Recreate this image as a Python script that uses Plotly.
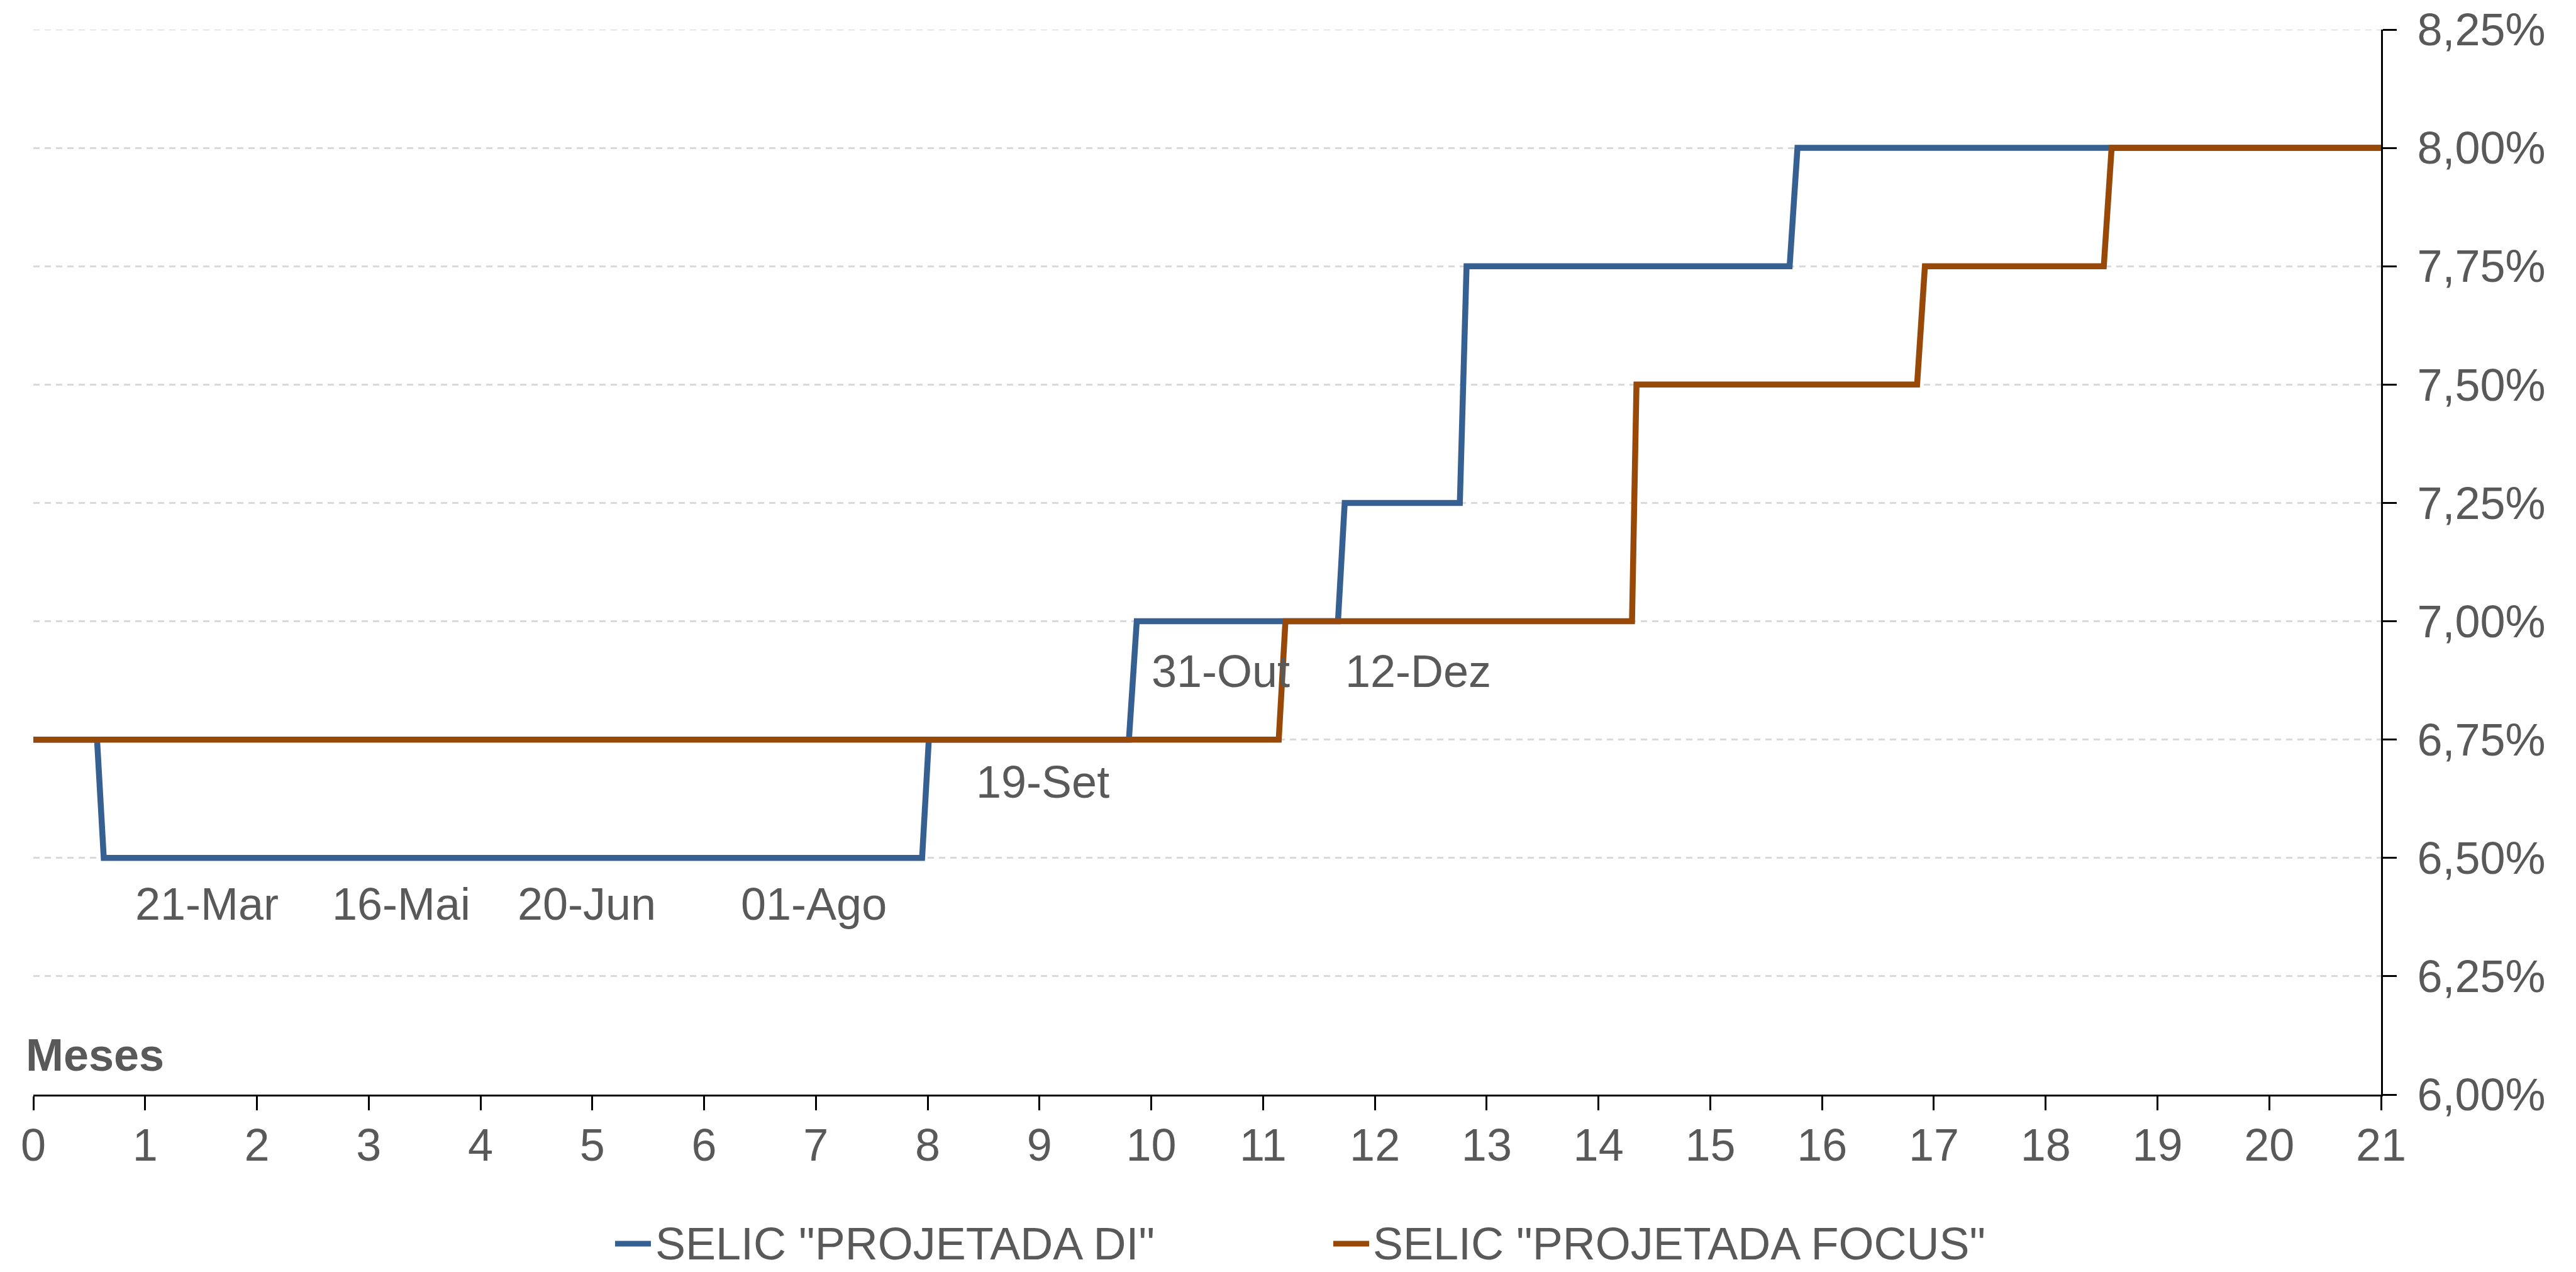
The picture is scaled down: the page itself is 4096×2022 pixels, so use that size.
import plotly.graph_objects as go

# ---- data ----
di_meses = [0, 0.57, 0.63, 7.95, 8.01, 9.80, 9.87, 11.67, 11.73, 12.76, 12.82, 15.71, 15.78, 21]
di_selic = [6.75, 6.75, 6.50, 6.50, 6.75, 6.75, 7.00, 7.00, 7.25, 7.25, 7.75, 7.75, 8.00, 8.00]

focus_meses = [0, 11.14, 11.20, 14.30, 14.34, 16.85, 16.92, 18.52, 18.59, 21]
focus_selic = [6.75, 6.75, 7.00, 7.00, 7.50, 7.50, 7.75, 7.75, 8.00, 8.00]

series_names = ['SELIC "PROJETADA DI"', 'SELIC "PROJETADA FOCUS"']

copom_labels = ["21-Mar", "16-Mai", "20-Jun", "01-Ago", "19-Set", "31-Out", "12-Dez"]
copom_x = [1.55, 3.29, 4.95, 6.98, 9.03, 10.62, 12.39]
copom_y = [6.403, 6.403, 6.403, 6.403, 6.66, 6.894, 6.894]

x_ticks = list(range(0, 22))
y_ticks = [6.00, 6.25, 6.50, 6.75, 7.00, 7.25, 7.50, 7.75, 8.00, 8.25]
y_ticktext = ["6,00%", "6,25%", "6,50%", "6,75%", "7,00%", "7,25%", "7,50%", "7,75%", "8,00%", "8,25%"]

# ---- style ----
OFF = 8  # page body margin
W, H = 4096 - OFF, 2022 - OFF
L, R, T, B = 53 - OFF, 3786 - OFF, 47 - OFF, 1740 - OFF
BLUE = "#376092"
ORANGE = "#984807"
TXT = "#595959"
GRID = "#D9D9D9"
FONT = "Liberation Sans, Arial, sans-serif"
FS = 72

def px(xp):
    return (xp - OFF - L) / (R - L)

def py(yp):
    return (B - (yp - OFF)) / (B - T)

fig = go.Figure()
fig.add_trace(go.Scatter(x=di_meses, y=di_selic, mode="lines", name=series_names[0],
                         line=dict(color=BLUE, width=9.5), showlegend=False))
fig.add_trace(go.Scatter(x=focus_meses, y=focus_selic, mode="lines", name=series_names[1],
                         line=dict(color=ORANGE, width=9.5), showlegend=False))

annotations = []
for t, x, y in zip(copom_labels, copom_x, copom_y):
    annotations.append(dict(x=x, y=y, xref="x", yref="y", text=t, showarrow=False,
                            xanchor="center", yanchor="middle",
                            font=dict(family=FONT, size=FS, color=TXT)))

annotations.append(dict(x=px(39), y=py(1677), xref="paper", yref="paper", text="<b>Meses</b>",
                        showarrow=False, xanchor="left", yanchor="middle",
                        font=dict(family=FONT, size=FS, color=TXT)))

shapes = []
# top gridline (range edge)
shapes.append(dict(type="line", xref="paper", yref="y", x0=0, x1=1, y0=y_ticks[-1], y1=y_ticks[-1],
                   line=dict(color=GRID, width=2.5, dash="10px,8px"), layer="below"))

# manual legend
leg_y = py(1977)
for name, color, x0, x1, xt in [(series_names[0], BLUE, 978, 1035, 1040),
                                (series_names[1], ORANGE, 2120, 2177, 2181)]:
    shapes.append(dict(type="line", xref="paper", yref="paper", x0=px(x0), x1=px(x1),
                       y0=leg_y, y1=leg_y, line=dict(color=color, width=9)))
    annotations.append(dict(x=px(xt), y=leg_y, xref="paper", yref="paper", text=name,
                            showarrow=False, xanchor="left", yanchor="middle",
                            font=dict(family=FONT, size=FS, color=TXT)))

fig.update_layout(
    width=W, height=H,
    margin=dict(l=L, r=W - R, t=T, b=H - B, pad=0, autoexpand=False),
    paper_bgcolor="white", plot_bgcolor="white",
    font=dict(family=FONT, size=FS, color=TXT),
    annotations=annotations, shapes=shapes,
    showlegend=False,
)
fig.update_xaxes(range=[0, 21], tickvals=x_ticks, showgrid=False, zeroline=False,
                 showline=True, linecolor="black", linewidth=3, automargin=False,
                 ticks="outside", ticklen=22, tickwidth=3, tickcolor="black",
                 tickfont=dict(family=FONT, size=FS, color=TXT), ticklabelstandoff=-6,
                 ticklabeloverflow="allow")
fig.update_yaxes(range=[6.0, 8.25], tickvals=y_ticks, ticktext=y_ticktext, side="right",
                 showgrid=True, gridcolor=GRID, gridwidth=2.5, griddash="10px,8px",
                 zeroline=False, showline=True, linecolor="black", linewidth=3, automargin=False,
                 ticks="outside", ticklen=22, tickwidth=2.5, tickcolor="black",
                 tickfont=dict(family=FONT, size=FS, color=TXT), ticklabelstandoff=18,
                 ticklabeloverflow="allow")

fig.write_html("out.html")
